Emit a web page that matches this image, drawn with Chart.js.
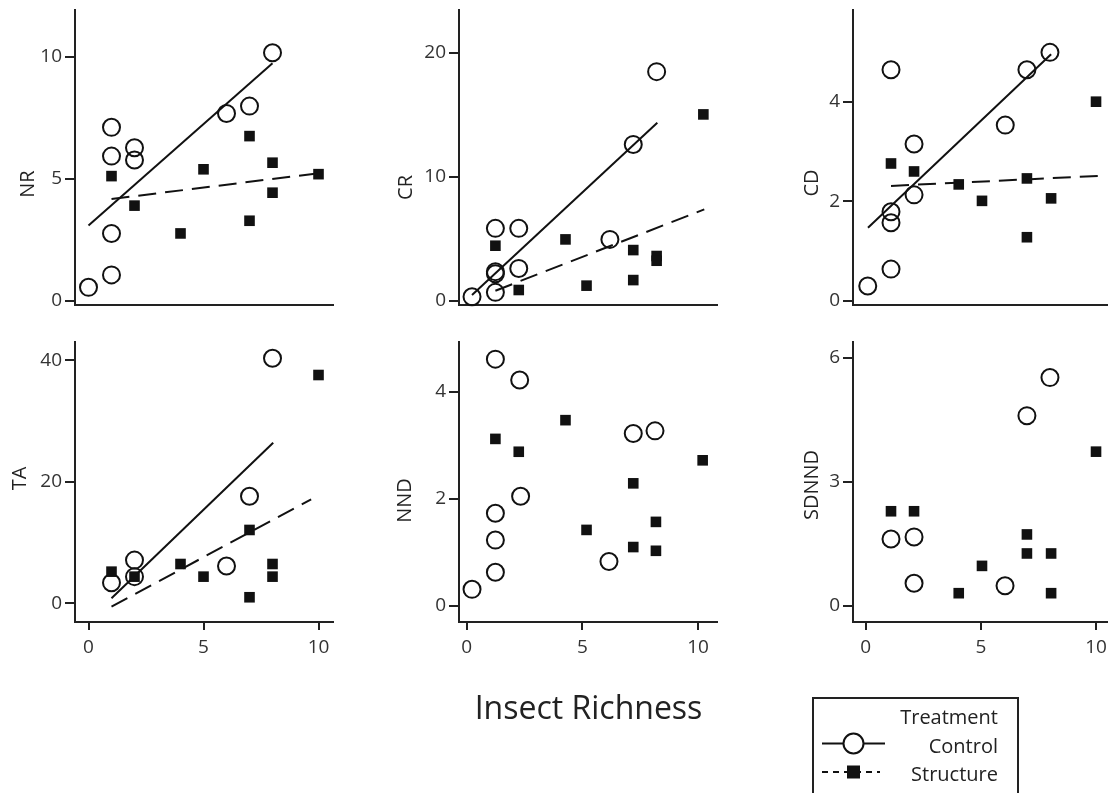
<!DOCTYPE html>
<html>
<head>
<meta charset="utf-8">
<script src="https://cdn.jsdelivr.net/npm/chart.js@4.4.1/dist/chart.umd.min.js"></script>
<style>
  html, body { margin: 0; padding: 0; width: 1108px; height: 793px; overflow: hidden; background: #fff; }
  canvas { position: absolute; }
  .txt { position: absolute; font-family: "Open Sans", sans-serif; color: #222; line-height: 1; white-space: nowrap; }
  #xtitle { font-size: 32px; left: 0; width: 1177px; text-align: center; top: 691px; }
  .leg { font-size: 20px; right: 110px; text-align: right; }
  #legendBox { position: absolute; left: 812px; top: 697px; width: 207px; height: 110px; border: 2px solid #222; box-sizing: border-box; }
  #legendIcons { position: absolute; left: 0; top: 0; }
</style>
</head>
<body>
<canvas id="cNR"></canvas>
<canvas id="cCR"></canvas>
<canvas id="cCD"></canvas>
<canvas id="cTA"></canvas>
<canvas id="cNND"></canvas>
<canvas id="cSDNND"></canvas>

<div id="xtitle" class="txt">Insect Richness</div>
<div id="legendBox"></div>
<svg id="legendIcons" width="1108" height="793">
  <line x1="822" y1="743.5" x2="885" y2="743.5" stroke="#111" stroke-width="2"/>
  <circle cx="853.5" cy="743.5" r="10" fill="#fff" stroke="#111" stroke-width="2"/>
  <line x1="822" y1="772" x2="880" y2="772" stroke="#111" stroke-width="2" stroke-dasharray="6,5"/>
  <rect x="847" y="765.5" width="13" height="13" fill="#111"/>
</svg>
<div class="txt leg" style="top:707px;">Treatment</div>
<div class="txt leg" style="top:736px;">Control</div>
<div class="txt leg" style="top:764px;">Structure</div>

<script>
// ---------------- DATA ----------------
const xTickValues = [0, 5, 10];

// NR
const nrYTicks = [0, 5, 10];
const nrControlX = [0, 1, 1, 1, 1, 2, 2, 6, 7, 8];
const nrControlY = [0.56, 1.07, 2.77, 5.94, 7.12, 6.28, 5.78, 7.69, 7.99, 10.18];
const nrStructX = [1, 2, 4, 5, 7, 7, 8, 8, 10];
const nrStructY = [5.12, 3.91, 2.77, 5.40, 6.76, 3.29, 5.67, 4.44, 5.20];
const nrFitControlX = [0, 8];
const nrFitControlY = [3.1, 9.75];
const nrFitStructX = [1, 10.1];
const nrFitStructY = [4.18, 5.25];

// CR
const crYTicks = [0, 10, 20];
const crControlX = [0.23, 1.24, 1.24, 1.24, 1.24, 2.25, 2.25, 6.19, 7.2, 8.21];
const crControlY = [0.35, 5.86, 2.37, 2.2, 0.70, 5.86, 2.63, 4.97, 12.63, 18.5];
const crStructX = [1.24, 2.25, 4.27, 5.18, 7.2, 7.2, 8.21, 8.21, 10.23];
const crStructY = [4.46, 0.89, 4.97, 1.24, 4.11, 1.69, 3.63, 3.25, 15.05];
const crFitControlX = [0.23, 8.24];
const crFitControlY = [0.48, 14.38];
const crFitStructX = [1.24, 10.27];
const crFitStructY = [0.83, 7.39];

// CD
const cdYTicks = [0, 2, 4];
const cdControlX = [0.09, 1.1, 1.1, 1.1, 1.1, 2.1, 2.1, 6.06, 7.0, 8.0];
const cdControlY = [0.30, 0.64, 1.57, 1.79, 4.64, 2.13, 3.15, 3.53, 4.64, 4.99];
const cdStructX = [1.1, 2.1, 4.04, 5.05, 7.0, 7.0, 8.05, 10.0];
const cdStructY = [2.76, 2.60, 2.34, 2.01, 2.46, 1.28, 2.06, 4.0];
const cdFitControlX = [0.1, 8.05];
const cdFitControlY = [1.47, 4.95];
const cdFitStructX = [1.1, 10.08];
const cdFitStructY = [2.31, 2.51];

// TA
const taYTicks = [0, 20, 40];
const taControlX = [1, 2, 2, 6, 7, 8];
const taControlY = [3.38, 7.1, 4.38, 6.13, 17.6, 40.3];
const taStructX = [1, 2, 4, 5, 7, 7, 8, 8, 10];
const taStructY = [5.2, 4.38, 6.46, 4.38, 12.06, 0.99, 6.46, 4.38, 37.55];
const taFitControlX = [1, 8.03];
const taFitControlY = [0.82, 26.4];
const taFitStructX = [1, 9.68];
const taFitStructY = [-0.55, 17.1];

// NND
const nndYTicks = [0, 2, 4];
const nndControlX = [0.23, 1.24, 1.24, 1.24, 1.24, 2.29, 2.33, 6.15, 7.2, 8.14];
const nndControlY = [0.31, 0.63, 1.23, 1.73, 4.61, 4.22, 2.05, 0.83, 3.22, 3.27];
const nndStructX = [1.24, 2.25, 4.27, 5.18, 7.2, 7.2, 8.18, 8.18, 10.2];
const nndStructY = [3.12, 2.88, 3.47, 1.42, 2.29, 1.10, 1.57, 1.03, 2.72];

// SDNND
const sdYTicks = [0, 3, 6];
const sdControlX = [1.1, 2.1, 2.1, 6.05, 7.0, 8.0];
const sdControlY = [1.62, 1.67, 0.55, 0.49, 4.6, 5.52];
const sdStructX = [1.1, 2.1, 4.04, 5.05, 7.0, 7.0, 8.05, 8.05, 10.0];
const sdStructY = [2.29, 2.29, 0.31, 0.97, 1.73, 1.27, 1.27, 0.31, 3.73];

// ---------------- LAYOUT / STYLE ----------------
const INK = '#111';
const AXIS = '#222';
const TICKTXT = '#333';
Chart.defaults.font.family = '"Open Sans", sans-serif';

const pts = (xs, ys) => xs.map((x, i) => ({ x: x, y: ys[i] }));

const panels = [
  { id: 'cNR', title: 'NR', L: 75, T: 10, R: 333, B: 305, xMin: -0.587, xMax: 10.63, yMin: -0.164, yMax: 11.93,
    yTicks: nrYTicks, bottom: false, tdx: -46.5, tdy: 174,
    cX: nrControlX, cY: nrControlY, sX: nrStructX, sY: nrStructY,
    fcX: nrFitControlX, fcY: nrFitControlY, fsX: nrFitStructX, fsY: nrFitStructY },
  { id: 'cCR', title: 'CR', L: 459.3, T: 10, R: 717.5, B: 305, xMin: -0.333, xMax: 10.82, yMin: -0.32, yMax: 23.47,
    yTicks: crYTicks, bottom: false, tdx: -52.5, tdy: 177.5,
    cX: crControlX, cY: crControlY, sX: crStructX, sY: crStructY,
    fcX: crFitControlX, fcY: crFitControlY, fsX: crFitStructX, fsY: crFitStructY },
  { id: 'cCD', title: 'CD', L: 853, T: 10, R: 1111.3, B: 305, xMin: -0.55, xMax: 10.65, yMin: -0.08, yMax: 5.84,
    yTicks: cdYTicks, bottom: false, tdx: -40.5, tdy: 173,
    cX: cdControlX, cY: cdControlY, sX: cdStructX, sY: cdStructY,
    fcX: cdFitControlX, fcY: cdFitControlY, fsX: cdFitStructX, fsY: cdFitStructY },
  { id: 'cTA', title: 'TA', L: 75, T: 342, R: 333, B: 622, xMin: -0.587, xMax: 10.63, yMin: -3.08, yMax: 42.98,
    yTicks: taYTicks, bottom: true, tdx: -54.5, tdy: 136.5,
    cX: taControlX, cY: taControlY, sX: taStructX, sY: taStructY,
    fcX: taFitControlX, fcY: taFitControlY, fsX: taFitStructX, fsY: taFitStructY },
  { id: 'cNND', title: 'NND', L: 459.3, T: 342, R: 717.5, B: 622, xMin: -0.333, xMax: 10.82, yMin: -0.3, yMax: 4.93,
    yTicks: nndYTicks, bottom: true, tdx: -53.5, tdy: 158.5,
    cX: nndControlX, cY: nndControlY, sX: nndStructX, sY: nndStructY },
  { id: 'cSDNND', title: 'SDNND', L: 853, T: 342, R: 1111.3, B: 622, xMin: -0.55, xMax: 10.65, yMin: -0.386, yMax: 6.38,
    yTicks: sdYTicks, bottom: true, tdx: -40.5, tdy: 143,
    cX: sdControlX, cY: sdControlY, sX: sdStructX, sY: sdStructY }
];

const yTitlePlugin = {
  id: 'yTitle',
  afterDraw(chart, args, opts) {
    const ctx = chart.ctx, a = chart.chartArea;
    ctx.save();
    ctx.translate(a.left + opts.dx, a.top + opts.dy);
    ctx.rotate(-Math.PI / 2);
    ctx.font = '20px "Open Sans"';
    ctx.fillStyle = AXIS;
    ctx.textAlign = 'center';
    ctx.textBaseline = 'middle';
    ctx.fillText(opts.text, 0, 0);
    ctx.restore();
  }
};

const YW = 75, PT = 20, PR = 25, PB = 20;

panels.forEach(p => {
  const XH = p.bottom ? 44 : 0;
  const cv = document.getElementById(p.id);
  const w = Math.round(YW + (p.R - p.L) + PR);
  const h = Math.round(PT + (p.B - p.T) + XH + PB);
  cv.width = w; cv.height = h;
  cv.style.width = w + 'px'; cv.style.height = h + 'px';
  cv.style.left = (p.L - YW) + 'px';
  cv.style.top = (p.T - PT) + 'px';

  const datasets = [
    { label: 'Control', data: pts(p.cX, p.cY), pointStyle: 'circle', pointRadius: 8.5, pointBorderWidth: 2,
      pointBorderColor: INK, pointBackgroundColor: 'rgba(0,0,0,0)', showLine: false, clip: false },
    { label: 'Structure', data: pts(p.sX, p.sY), pointStyle: 'rect', pointRadius: 7.5, pointBorderWidth: 0,
      pointBorderColor: INK, pointBackgroundColor: INK, showLine: false, clip: false }
  ];
  if (p.fcX) {
    datasets.push({ label: 'Control fit', data: pts(p.fcX, p.fcY), showLine: true, pointRadius: 0,
      borderColor: INK, borderWidth: 2, clip: false });
    datasets.push({ label: 'Structure fit', data: pts(p.fsX, p.fsY), showLine: true, pointRadius: 0,
      borderColor: INK, borderWidth: 2, borderDash: [18, 9], clip: false });
  }

  new Chart(cv, {
    type: 'scatter',
    data: { datasets },
    options: {
      responsive: false,
      animation: false,
      events: [],
      layout: { padding: { left: 0, top: PT, right: PR, bottom: PB } },
      plugins: { legend: { display: false }, tooltip: { enabled: false },
                 yTitle: { text: p.title, dx: p.tdx, dy: p.tdy } },
      scales: {
        x: {
          type: 'linear', min: p.xMin, max: p.xMax,
          afterBuildTicks: s => { s.ticks = xTickValues.map(v => ({ value: v })); },
          afterFit: s => { s.height = XH; },
          border: { display: true, color: AXIS, width: 2 },
          grid: { display: p.bottom, drawOnChartArea: false, drawTicks: true, tickLength: 8, color: AXIS, lineWidth: 2 },
          ticks: { display: p.bottom, color: TICKTXT, font: { size: 19 }, padding: 6, maxRotation: 0 }
        },
        y: {
          type: 'linear', min: p.yMin, max: p.yMax,
          afterBuildTicks: s => { s.ticks = p.yTicks.map(v => ({ value: v })); },
          afterFit: s => { s.width = YW; },
          border: { display: true, color: AXIS, width: 2 },
          grid: { display: true, drawOnChartArea: false, drawTicks: true, tickLength: 10, color: AXIS, lineWidth: 2 },
          ticks: { color: TICKTXT, font: { size: 19 }, padding: 3 }
        }
      }
    },
    plugins: [yTitlePlugin]
  });
});
</script>
</body>
</html>
